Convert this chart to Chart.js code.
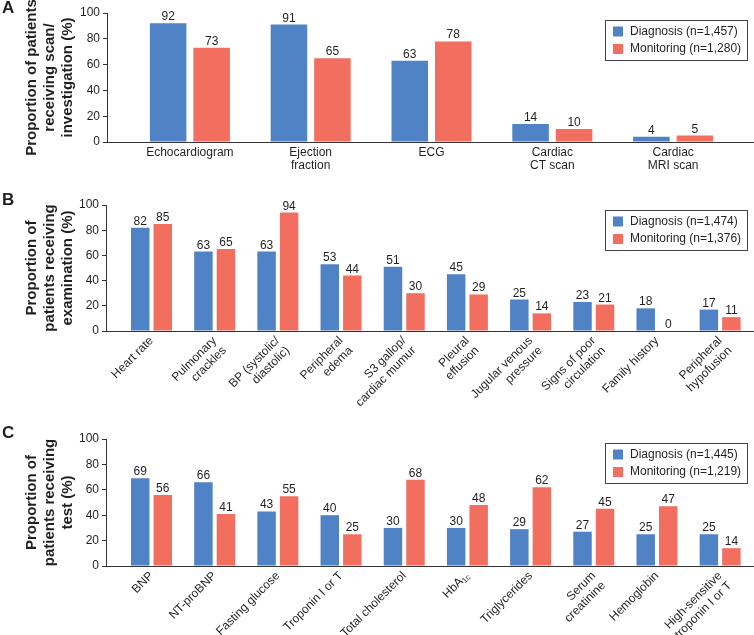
<!DOCTYPE html>
<html>
<head>
<meta charset="utf-8">
<script src="https://cdn.jsdelivr.net/npm/chart.js@4"></script>
<style>
  body { margin: 0; background: #fff; }
  .panel { position: absolute; left: 0; width: 754px; }
</style>
</head>
<body>
<div class="panel" style="top:0;height:185px"><canvas id="chart-a"></canvas></div>
<div class="panel" style="top:185px;height:222px"><canvas id="chart-b"></canvas></div>
<div class="panel" style="top:407px;height:228px"><canvas id="chart-c"></canvas></div>
<script>
// Panel A - scans / investigations
const scanLabels = ['Echocardiogram', ['Ejection', 'fraction'], 'ECG', ['Cardiac', 'CT scan'], ['Cardiac', 'MRI scan']];
const scanDiagnosis = [92, 91, 63, 14, 4];
const scanMonitoring = [73, 65, 78, 10, 5];

// Panel B - examinations
const examLabels = ['Heart rate', ['Pulmonary', 'crackles'], ['BP (systolic/', 'diastolic)'], ['Peripheral', 'edema'],
  ['S3 gallop/', 'cardiac mumur'], ['Pleural', 'effusion'], ['Jugular venous', 'pressure'],
  ['Signs of poor', 'circulation'], 'Family history', ['Peripheral', 'hypofusion']];
const examDiagnosis = [82, 63, 63, 53, 51, 45, 25, 23, 18, 17];
const examMonitoring = [85, 65, 94, 44, 30, 29, 14, 21, 0, 11];

// Panel C - tests
const testLabels = ['BNP', 'NT-proBNP', 'Fasting glucose', 'Troponin I or T', 'Total cholesterol', 'HbA1c',
  'Triglycerides', ['Serum', 'creatinine'], 'Hemoglobin', ['High-sensitive', 'troponin I or T']];
const testDiagnosis = [69, 66, 43, 40, 30, 30, 29, 27, 25, 25];
const testMonitoring = [56, 41, 55, 25, 68, 48, 62, 45, 47, 14];

const yTicks = [0, 20, 40, 60, 80, 100];

const BLUE = '#4f83c5';
const RED = '#f26f60';
const TEXT = '#231f20';
const AXIS = '#333333';
const FONT = '"Liberation Sans", Arial, sans-serif';

Chart.defaults.font.family = FONT;
Chart.defaults.color = TEXT;

// numbers above each bar
const valueLabels = {
  id: 'valueLabels',
  afterDatasetsDraw(chart) {
    const ctx = chart.ctx;
    ctx.save();
    ctx.font = '12px ' + FONT;
    ctx.fillStyle = TEXT;
    ctx.textAlign = 'center';
    ctx.textBaseline = 'alphabetic';
    chart.data.datasets.forEach((ds, i) => {
      chart.getDatasetMeta(i).data.forEach((bar, j) => {
        ctx.fillText(ds.data[j], bar.x, bar.y - 3);
      });
    });
    ctx.restore();
  }
};

// legend with a frame round it, plus the panel letter
const boxLegend = {
  id: 'boxLegend',
  afterDraw(chart, args, opts) {
    const { ctx, chartArea } = chart;
    const x = chartArea.right - 148;
    const y = chartArea.top + opts.offset;
    ctx.save();
    ctx.strokeStyle = '#444';
    ctx.lineWidth = 1;
    ctx.strokeRect(Math.round(x) + 0.5, Math.round(y) + 0.5, 142, 40);
    ctx.font = '12px ' + FONT;
    ctx.textAlign = 'left';
    ctx.textBaseline = 'middle';
    chart.data.datasets.forEach((ds, i) => {
      const cy = y + 11.5 + i * 17.5;
      ctx.fillStyle = ds.backgroundColor;
      ctx.fillRect(x + 8, cy - 5, 10, 10);
      ctx.fillStyle = TEXT;
      ctx.fillText(ds.label, x + 25, cy);
    });
    ctx.font = 'bold 17px ' + FONT;
    ctx.textBaseline = 'alphabetic';
    ctx.fillStyle = TEXT;
    ctx.fillText(opts.letter, 2, opts.letterY);
    ctx.restore();
  }
};

// HbA1c with a small "1c"
const subLabel = {
  id: 'subLabel',
  afterDraw(chart, args, opts) {
    if (opts.index === undefined) return;
    const scale = chart.scales.x;
    const items = scale.getLabelItems();
    const i = scale.ticks.findIndex(t => t.value === opts.index);
    const item = items[i];
    if (!item) return;
    const ctx = chart.ctx;
    ctx.save();
    ctx.translate(item.options.translation[0], item.options.translation[1]);
    ctx.rotate(item.options.rotation);
    ctx.fillStyle = TEXT;
    ctx.textAlign = 'right';
    ctx.textBaseline = 'middle';
    ctx.font = '8px ' + FONT;
    const w = ctx.measureText(opts.sub).width;
    ctx.fillText(opts.sub, 0, item.textOffset + 3);
    ctx.font = '12px ' + FONT;
    ctx.fillText(opts.main, -w, item.textOffset);
    ctx.restore();
  }
};

function makeChart(id, p) {
  new Chart(document.getElementById(id), {
    type: 'bar',
    data: {
      labels: p.labels.map((_, i) => i),
      datasets: [
        { label: p.legend[0], data: p.diagnosis, backgroundColor: BLUE },
        { label: p.legend[1], data: p.monitoring, backgroundColor: RED }
      ]
    },
    options: {
      responsive: true,
      maintainAspectRatio: false,
      animation: false,
      layout: { padding: { top: p.top, right: 1, left: 0, bottom: 0 } },
      categoryPercentage: p.catPct,
      barPercentage: p.barPct,
      plugins: {
        legend: { display: false },
        tooltip: { enabled: false },
        boxLegend: { offset: p.legendOffset, letter: p.letter, letterY: p.letterY },
        subLabel: p.sub || {}
      },
      scales: {
        x: {
          type: 'linear',
          offset: false,
          bounds: 'data',
          min: p.xMin,
          max: p.xMax,
          afterBuildTicks: (axis) => { axis.ticks = p.labels.map((_, i) => ({ value: i })); },
          afterFit: (scale) => { scale.height = p.xHeight; },
          grid: { display: false, drawTicks: false, offset: false },
          border: { color: AXIS, width: 1 },
          ticks: {
            autoSkip: false,
            minRotation: p.rotation,
            maxRotation: p.rotation,
            padding: p.xPad,
            font: { size: 12, lineHeight: p.lineHeight },
            color: TEXT,
            callback: (v) => (p.sub && v === p.sub.index) ? '' : p.labels[v]
          }
        },
        y: {
          min: 0,
          max: 100,
          afterBuildTicks: (axis) => { axis.ticks = yTicks.map(v => ({ value: v })); },
          afterFit: (scale) => { scale.width = p.yWidth; },
          grid: { drawOnChartArea: false, drawTicks: true, tickLength: 4, color: AXIS },
          border: { color: AXIS, width: 1 },
          ticks: { padding: 3, font: { size: 12 }, color: TEXT },
          title: {
            display: true,
            text: p.title,
            color: TEXT,
            font: { size: 15, weight: 'bold', lineHeight: 1.2 },
            padding: { top: 23, bottom: 0 }
          }
        }
      }
    },
    plugins: [valueLabels, boxLegend, subLabel]
  });
}

makeChart('chart-a', {
  labels: scanLabels, diagnosis: scanDiagnosis, monitoring: scanMonitoring,
  legend: ['Diagnosis (n=1,457)', 'Monitoring (n=1,280)'],
  title: ['Proportion of patients', 'receiving scan/', 'investigation (%)'],
  top: 13, yWidth: 107, xHeight: 43, xMin: -0.686, xMax: 4.661,
  catPct: 0.72, barPct: 0.84, rotation: 0, xPad: 4, lineHeight: 1.1,
  legendOffset: 7, letter: 'A', letterY: 13
});

makeChart('chart-b', {
  labels: examLabels, diagnosis: examDiagnosis, monitoring: examMonitoring,
  legend: ['Diagnosis (n=1,474)', 'Monitoring (n=1,376)'],
  title: ['Proportion of', 'patients receiving', 'examination (%)'],
  top: 20, yWidth: 106, xHeight: 76, xMin: -0.72, xMax: 9.52,
  catPct: 0.713, barPct: 0.82, rotation: 45, xPad: 3, lineHeight: 1.15,
  legendOffset: 5, letter: 'B', letterY: 20
});

makeChart('chart-c', {
  labels: testLabels, diagnosis: testDiagnosis, monitoring: testMonitoring,
  legend: ['Diagnosis (n=1,445)', 'Monitoring (n=1,219)'],
  title: ['Proportion of', 'patients receiving', 'test (%)'],
  top: 32, yWidth: 106, xHeight: 69, xMin: -0.72, xMax: 9.52,
  catPct: 0.713, barPct: 0.82, rotation: 45, xPad: 3, lineHeight: 1.15,
  legendOffset: 4, letter: 'C', letterY: 31,
  sub: { index: 5, main: 'HbA', sub: '1c' }
});
</script>
</body>
</html>
